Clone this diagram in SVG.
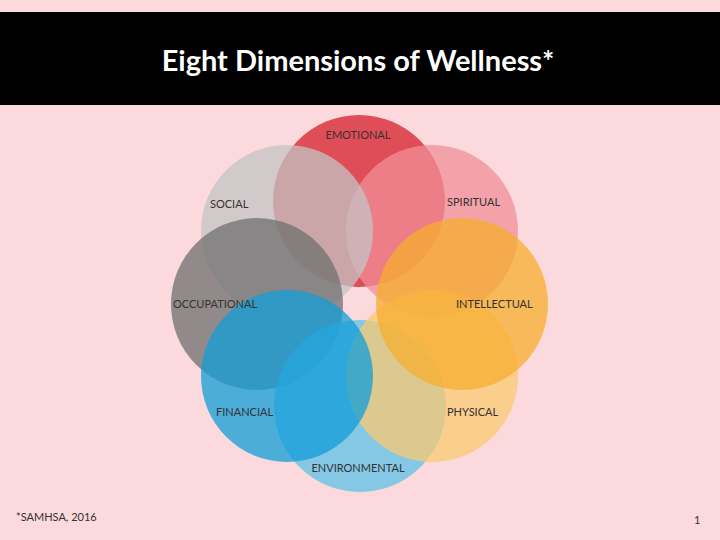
<svg xmlns="http://www.w3.org/2000/svg" width="720" height="540" viewBox="0 0 720 540">
<style>
.c{opacity:0.75}
.l{font-family:Lato,"Liberation Sans",sans-serif;font-size:11px;fill:#333}
</style>
<rect width="720" height="540" fill="#fbd9dc"/>
<rect x="0" y="12" width="720" height="93" fill="#000"/>
<text x="358" y="71" text-anchor="middle" font-family="Lato,'Liberation Sans',sans-serif" font-size="29" font-weight="bold" fill="#fff">Eight Dimensions of Wellness*</text>
<g id="emotional"><circle class="c" cx="359" cy="201" r="86" fill="#d61f2b"/></g>
<g id="spiritual"><circle class="c" cx="432" cy="231" r="86" fill="#f28f98"/></g>
<g id="social"><circle class="c" cx="287" cy="231" r="86" fill="#c4c4c4"/></g>
<g id="occupational"><circle class="c" cx="257" cy="304" r="86" fill="#6f6f6f"/></g>
<g id="environmental"><circle class="c" cx="360" cy="406" r="86" fill="#5ec1ea"/></g>
<g id="physical"><circle class="c" cx="432" cy="376" r="86" fill="#f9c972"/></g>
<g id="intellectual"><circle class="c" cx="462" cy="304" r="86" fill="#f6ad2e"/></g>
<g id="financial"><circle class="c" cx="287" cy="376" r="86" fill="#119ed8"/></g>
<text class="l" x="358" y="139" text-anchor="middle">EMOTIONAL</text>
<text class="l" x="210" y="208">SOCIAL</text>
<text class="l" x="447" y="206">SPIRITUAL</text>
<text class="l" x="173" y="308">OCCUPATIONAL</text>
<text class="l" x="456" y="308">INTELLECTUAL</text>
<text class="l" x="216" y="416">FINANCIAL</text>
<text class="l" x="447" y="416">PHYSICAL</text>
<text class="l" x="358" y="472" text-anchor="middle">ENVIRONMENTAL</text>
<text class="l" x="16" y="521" fill="#000">*SAMHSA, 2016</text>
<text class="l" x="694" y="524" fill="#000">1</text>
</svg>
